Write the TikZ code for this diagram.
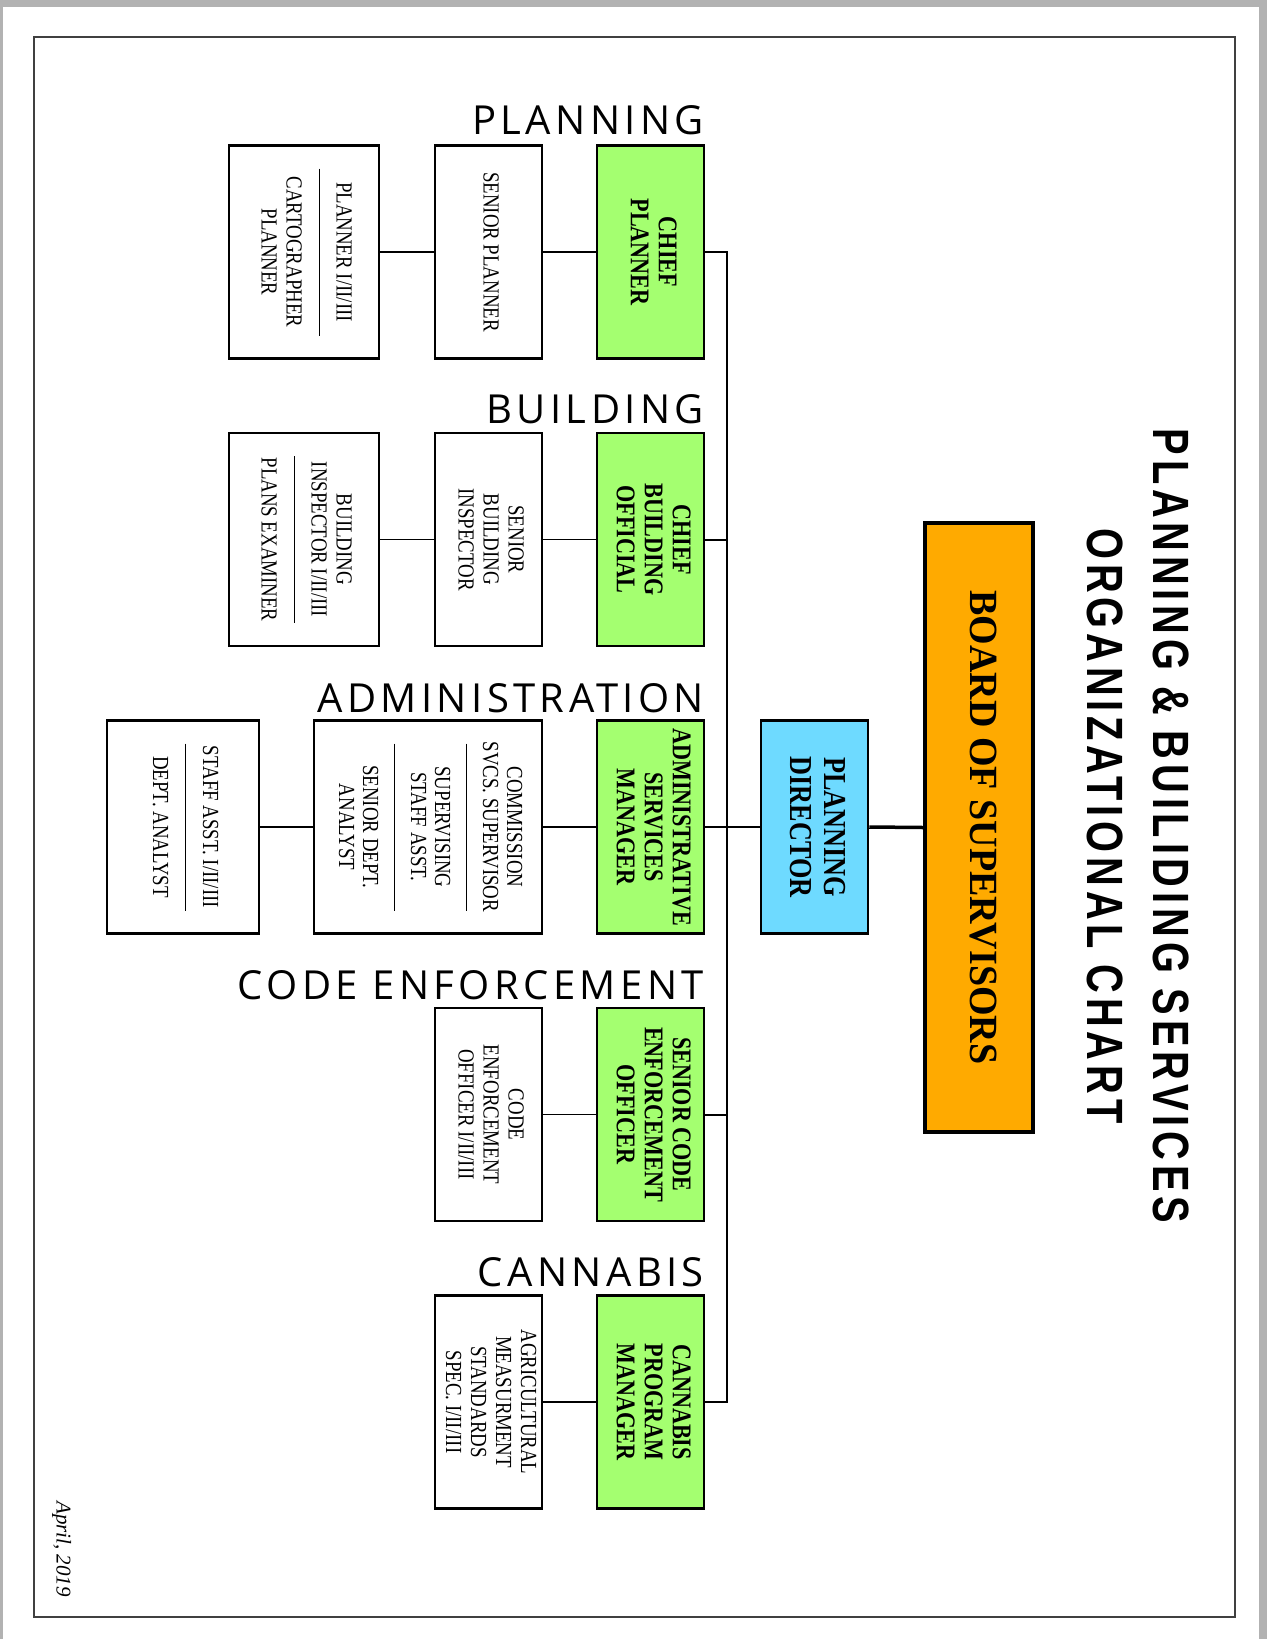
\documentclass[tikz,border=0pt]{standalone}
\usepackage{graphicx}
\usepackage{fontspec}
\setmainfont{Liberation Serif}
\newfontfamily\orgfont[FakeStretch=0.82]{Liberation Serif}
\newfontfamily\boardfont[FakeStretch=0.95]{Liberation Serif}
\newfontfamily\titlefont[FakeStretch=0.78,LetterSpace=9.5]{Liberation Sans}
\newfontfamily\sectfont[LetterSpace=11]{Open Sans}
\usepackage{tikz}
\pgfdeclarelayer{paperlayer}
\pgfdeclarelayer{edgelayer}
\pgfdeclarelayer{nodelayer}
\pgfsetlayers{paperlayer,edgelayer,nodelayer,main}
\definecolor{chiefgreen}{RGB}{164,255,112}
\definecolor{boardorange}{RGB}{255,170,0}
\definecolor{directorblue}{RGB}{110,218,255}
\tikzstyle{greenbox}=[draw=black, line width=2.5pt, fill=chiefgreen, minimum width=107pt, minimum height=213pt, inner sep=0pt, font=\fontsize{27}{28}\selectfont\orgfont\bfseries]
\tikzstyle{staffbox}=[draw=black, line width=2.5pt, fill=white, minimum width=107pt, minimum height=213pt, inner sep=0pt, font=\fontsize{23}{25}\selectfont\orgfont]
\tikzstyle{section}=[anchor=base east, inner sep=0pt, font=\fontsize{40}{41}\selectfont\sectfont]
\tikzstyle{branch}=[draw=black, line width=1.5pt]
\tikzstyle{trunk}=[draw=black, line width=2pt]
\newcommand{\vtext}[1]{\rotatebox{-90}{\begin{tabular}{@{}c@{}}#1\end{tabular}}}
\newcommand{\divline}{\rule[7pt]{167pt}{1.2pt}}

\begin{document}
\begin{tikzpicture}[x=1pt, y=-1pt]
	\useasboundingbox (0,0) rectangle (1267,1639);
	\begin{pgfonlayer}{paperlayer}
		\fill[black!30] (0,0) rectangle (1267,1639);
		\fill[white] (3,7) rectangle (1259,1639);
		\draw[line width=1.5pt, black!75] (34,37) rectangle (1235,1617);
	\end{pgfonlayer}
	\begin{pgfonlayer}{nodelayer}

	%title
		\node [font=\fontsize{51}{66}\selectfont\titlefont\bfseries] (title) at (1134,826) {\vtext{PLANNING \& BUILIDING SERVICES\\ORGANIZATIONAL CHART}};
		\node [draw=black, line width=3.5pt, fill=boardorange, minimum width=108pt, minimum height=609pt, inner sep=0pt, font=\fontsize{40}{42}\selectfont\boardfont\bfseries] (board) at (979,827.5) {\vtext{BOARD OF SUPERVISORS}};
		\node [draw=black, line width=2.5pt, fill=directorblue, minimum width=107pt, minimum height=213pt, inner sep=0pt, font=\fontsize{32}{34}\selectfont\orgfont\bfseries] (director) at (814.5,827) {\vtext{PLANNING\\DIRECTOR}};

	%planning
		\node [style=section] (plansect) at (704,134) {PLANNING};
		\node [style=greenbox] (chiefplanner) at (650.5,252) {\vtext{CHIEF\\PLANNER}};
		\node [style=staffbox] (srplanner) at (488.5,252) {\vtext{SENIOR PLANNER}};
		\node [style=staffbox, minimum width=150pt] (planner) at (304,252) {\vtext{PLANNER I/II/III\\\divline\\CARTOGRAPHER\\PLANNER}};

	%building
		\node [style=section] (bldgsect) at (704,423) {BUILDING};
		\node [style=greenbox] (chiefbldg) at (650.5,539.5) {\vtext{CHIEF\\BUILDING\\OFFICIAL}};
		\node [style=staffbox] (srinspector) at (488.5,539.5) {\vtext{SENIOR\\BUILDING\\INSPECTOR}};
		\node [style=staffbox, minimum width=150pt] (inspector) at (304,539.5) {\vtext{BUILDING\\INSPECTOR I/II/III\\\divline\\PLANS EXAMINER}};

	%administration
		\node [style=section] (adminsect) at (704,712) {ADMINISTRATION};
		\node [style=greenbox] (adminmgr) at (650.5,827) {\vtext{ADMINISTRATIVE\\SERVICES\\MANAGER}};
		\node [style=staffbox, minimum width=228pt, font=\fontsize{23}{24}\selectfont\orgfont] (commission) at (428,827) {\vtext{COMMISSION\\SVCS. SUPERVISOR\\\divline\\SUPERVISING\\STAFF ASST.\\\divline\\SENIOR DEPT.\\ANALYST}};
		\node [style=staffbox, minimum width=152pt] (staffasst) at (183,827) {\vtext{STAFF ASST. I/II/III\\\divline\\DEPT. ANALYST}};

	%code enforcement
		\node [style=section] (codesect) at (704,999) {CODE ENFORCEMENT};
		\node [style=greenbox] (seniorcode) at (650.5,1114.5) {\vtext{SENIOR CODE\\ENFORCEMENT\\OFFICER}};
		\node [style=staffbox] (codeofficer) at (488.5,1114.5) {\vtext{CODE\\ENFORCEMENT\\OFFICER I/II/III}};

	%cannabis
		\node [style=section] (cannasect) at (704,1286) {CANNABIS};
		\node [style=greenbox] (cannamgr) at (650.5,1402) {\vtext{CANNABIS\\PROGRAM\\MANAGER}};
		\node [style=staffbox] (agspec) at (488.5,1402) {\vtext{AGRICULTURAL\\MEASURMENT\\STANDARDS\\SPEC. I/II/III}};

		\node [font=\fontsize{21}{22}\selectfont\itshape] (date) at (61,1549) {\vtext{April, 2019}};
		\coordinate (trunkbot) at (727,1402);

	\end{pgfonlayer}
	\begin{pgfonlayer}{edgelayer}

		%director
		\draw [line width=3.5pt] (board.west) to (director.east);
		\draw [style=trunk] (director.west) to (adminmgr.east);
		\draw [style=trunk] (chiefplanner.east) -| (trunkbot) to (cannamgr.east);
		\draw [style=trunk] (chiefbldg.east) to (chiefbldg.east -| trunkbot);
		\draw [style=trunk] (seniorcode.east) to (seniorcode.east -| trunkbot);

		%staff
		\draw [style=branch] (srplanner) to (chiefplanner);
		\draw [style=branch] (planner) to (srplanner);
		\draw [style=branch] (srinspector) to (chiefbldg);
		\draw [style=branch] (inspector) to (srinspector);
		\draw [style=branch] (commission) to (adminmgr);
		\draw [style=branch] (staffasst) to (commission);
		\draw [style=branch] (codeofficer) to (seniorcode);
		\draw [style=branch] (agspec) to (cannamgr);

	\end{pgfonlayer}
\end{tikzpicture}
\end{document}
